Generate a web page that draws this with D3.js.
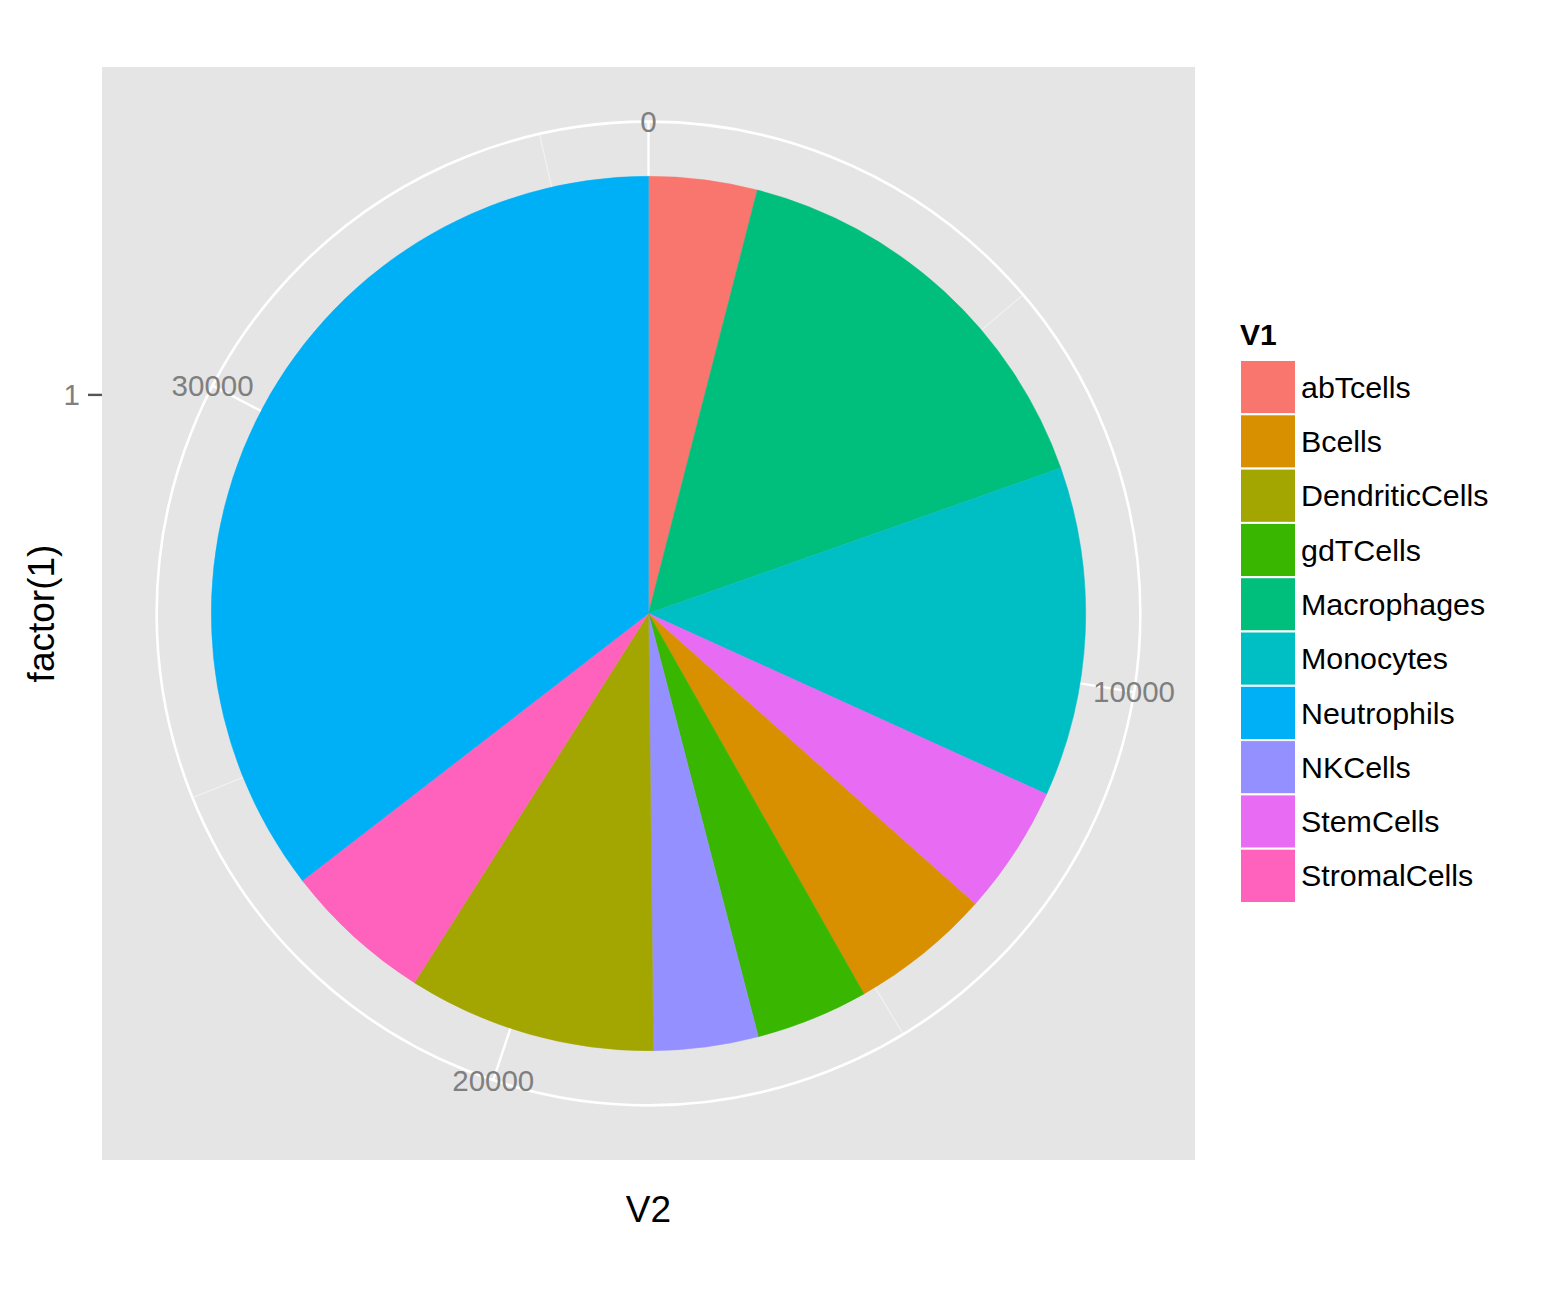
<!DOCTYPE html>
<html>
<head>
<meta charset="utf-8">
<script src="https://cdn.jsdelivr.net/npm/d3@7"></script>
<style>
  body { margin: 0; background: #fff; }
  text { font-family: "Liberation Sans", Arial, sans-serif; }
</style>
</head>
<body>
<div id="my_dataviz"></div>
<script>

// data, in the order the slices go round (clockwise from the top)
var sliceOrder = ["abTcells", "Macrophages", "Monocytes", "StemCells", "Bcells",
    "gdTCells", "NKCells", "DendriticCells", "StromalCells", "Neutrophils"];
var sliceValues = [1453, 5660, 4421, 1738, 1896, 1511, 1402, 3328, 2011, 12870];

// legend order (factor levels)
var categories = ["abTcells", "Bcells", "DendriticCells", "gdTCells", "Macrophages",
    "Monocytes", "Neutrophils", "NKCells", "StemCells", "StromalCells"];
var categoryColors = ["#F8766D", "#D89000", "#A3A500", "#39B600", "#00BF7D",
    "#00BFC4", "#00B0F6", "#9590FF", "#E76BF3", "#FF62BC"];

var thetaMajor = [0, 10000, 20000, 30000];
var thetaMinor = [5000, 15000, 25000, 35000];
var rTicks = [1];
var rTickLabels = ["1"];

var data = sliceOrder.map(function (d, i) { return { name: d, value: sliceValues[i] }; });
var total = d3.sum(sliceValues);

// panel geometry (square panel like coord_polar)
var panel = { x: 102, y: 67, size: 1093 };
var cx = panel.x + panel.size / 2,
    cy = panel.y + panel.size / 2;

var svg = d3.select("#my_dataviz")
    .append("svg")
    .attr("width", 1546)
    .attr("height", 1296);

var color = d3.scaleOrdinal()
    .domain(categories)
    .range(categoryColors);

// theta: value -> angle, r: discrete x (0.5..1.5) -> radius
var theta = d3.scaleLinear()
    .domain([0, total])
    .range([0, 2 * Math.PI]);
var r = d3.scaleLinear()
    .domain([0.5, 1.5])
    .range([0, 0.4 * panel.size]);
var outerR = 0.45 * panel.size;

svg.append("rect")
    .attr("x", panel.x)
    .attr("y", panel.y)
    .attr("width", panel.size)
    .attr("height", panel.size)
    .style("fill", "#E5E5E5");

var g = svg.append("g")
    .attr("transform", "translate(" + cx + "," + cy + ")");

// grid: minor then major theta lines, r circles
g.selectAll("line.minor")
    .data(thetaMinor)
    .enter()
    .append("line")
    .attr("x1", 0).attr("y1", 0)
    .attr("x2", function (d) { return outerR * Math.sin(theta(d)); })
    .attr("y2", function (d) { return -outerR * Math.cos(theta(d)); })
    .style("stroke", "#F2F2F2")
    .style("stroke-width", 1.2);

g.selectAll("line.major")
    .data(thetaMajor)
    .enter()
    .append("line")
    .attr("x1", 0).attr("y1", 0)
    .attr("x2", function (d) { return outerR * Math.sin(theta(d)); })
    .attr("y2", function (d) { return -outerR * Math.cos(theta(d)); })
    .style("stroke", "#fff")
    .style("stroke-width", 2.4);

g.selectAll("circle.rgrid")
    .data(rTicks.map(function (d) { return r(d); }).concat([outerR]))
    .enter()
    .append("circle")
    .attr("r", function (d) { return d; })
    .style("fill", "none")
    .style("stroke", "#fff")
    .style("stroke-width", 2.6);

// slices
var pie = d3.pie()
    .sort(null)
    .value(function (d) { return d.value; })
    .startAngle(0)
    .endAngle(2 * Math.PI);

var arc = d3.arc()
    .innerRadius(0)
    .outerRadius(r(1.5));

g.selectAll("path.slice")
    .data(pie(data))
    .enter()
    .append("path")
    .attr("d", arc)
    .style("fill", function (d) { return color(d.data.name); })
    .style("stroke", function (d) { return color(d.data.name); })
    .style("stroke-width", 0.5);

// theta labels on the outer circle
g.selectAll("text.theta")
    .data(thetaMajor)
    .enter()
    .append("text")
    .attr("x", function (d) { return outerR * Math.sin(theta(d)); })
    .attr("y", function (d) { return -outerR * Math.cos(theta(d)); })
    .attr("text-anchor", "middle")
    .attr("dy", "0.35em")
    .style("font-size", "29.5px")
    .style("fill", "#7F7F7F")
    .text(function (d) { return d; });

// r axis on the left
var rAxis = svg.append("g");
rAxis.selectAll("line")
    .data(rTicks)
    .enter()
    .append("line")
    .attr("x1", panel.x - 14)
    .attr("x2", panel.x)
    .attr("y1", function (d) { return cy - r(d); })
    .attr("y2", function (d) { return cy - r(d); })
    .style("stroke", "#555")
    .style("stroke-width", 2.4);
rAxis.selectAll("text")
    .data(rTicks)
    .enter()
    .append("text")
    .attr("x", panel.x - 22)
    .attr("y", function (d) { return cy - r(d); })
    .attr("dy", "0.35em")
    .attr("text-anchor", "end")
    .style("font-size", "29.5px")
    .style("fill", "#7F7F7F")
    .text(function (d, i) { return rTickLabels[i]; });

// axis titles
svg.append("text")
    .attr("x", cx)
    .attr("y", 1222)
    .attr("text-anchor", "middle")
    .style("font-size", "37px")
    .text("V2");

svg.append("text")
    .attr("transform", "translate(54," + cy + ") rotate(-90)")
    .attr("text-anchor", "middle")
    .style("font-size", "37px")
    .text("factor(1)");

// legend
var legend = svg.append("g")
    .attr("transform", "translate(1240,360)");
var keyH = 54.3, keyW = 56;

legend.append("text")
    .attr("x", 0)
    .attr("y", -15)
    .style("font-size", "30px")
    .style("font-weight", "bold")
    .text("V1");

var keys = legend.selectAll("g.key")
    .data(categories)
    .enter()
    .append("g")
    .attr("transform", function (d, i) { return "translate(0," + i * keyH + ")"; });

keys.append("rect")
    .attr("width", keyW)
    .attr("height", keyH)
    .style("fill", function (d) { return color(d); })
    .style("stroke", "#fff")
    .style("stroke-width", 2);

keys.append("text")
    .attr("x", 61)
    .attr("y", keyH / 2)
    .attr("dy", "0.35em")
    .style("font-size", "30.4px")
    .text(function (d) { return d; });

</script>
</body>
</html>
